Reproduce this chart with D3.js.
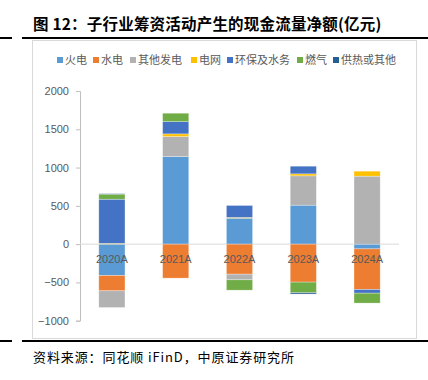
<!DOCTYPE html>
<html><head><meta charset="utf-8">
<script src="https://cdn.jsdelivr.net/npm/d3@7"></script>
<style>
body{margin:0;background:#fff;}
svg{display:block;font-family:"Noto Sans CJK SC","Noto Sans",sans-serif;}
</style></head>
<body>
<script>
const categories = ["2020A","2021A","2022A","2023A","2024A"];
const seriesNames = ["火电","水电","其他发电","电网","环保及水务","燃气","供热或其他"];
const colors = ["#5B9BD5","#ED7D31","#B2B2B2","#FFC000","#4472C4","#70AD47","#255E91"];
const v_huodian   = [-410, 1144, 339, 509, -62];
const v_shuidian  = [-200, -444, -392, -496, -531];
const v_qita      = [-218, 261, -74, 383, 888];
const v_dianwang  = [10, 35, 10, 26, 65];
const v_huanbao   = [577, 160, 156, 100, -47];
const v_ranqi     = [66, 110, -135, -140, -130];
const v_gongre    = [6, 0, 0, -16, 0];
const yTicks = [-1000,-500,0,500,1000,1500,2000];
const title = "图 12：子行业筹资活动产生的现金流量净额(亿元)";
const source = "资料来源：同花顺 iFinD，中原证券研究所";

const seriesVals = [v_huodian,v_shuidian,v_qita,v_dianwang,v_huanbao,v_ranqi,v_gongre];
const table = categories.map((c,i)=>{const o={cat:c}; seriesNames.forEach((s,j)=>o[s]=seriesVals[j][i]); return o;});

const W=428,H=380;
const svg=d3.select("body").append("svg").attr("width",W).attr("height",H);

// title and rules
svg.append("text").attr("x",33).attr("y",30).attr("font-size",15.5).attr("font-weight","bold")
  .attr("fill","#000").attr("letter-spacing",0.2).text(title);
svg.append("rect").attr("x",0).attr("y",37).attr("width",12).attr("height",2).attr("fill","#000");
svg.append("rect").attr("x",22).attr("y",37).attr("width",W-22).attr("height",2).attr("fill","#000");
svg.append("rect").attr("x",32.5).attr("y",40.5).attr("width",384).attr("height",298).attr("fill","none").attr("stroke","#D9D9D9");
svg.append("rect").attr("x",0).attr("y",340).attr("width",12).attr("height",2).attr("fill","#000");
svg.append("rect").attr("x",22).attr("y",340).attr("width",W-22).attr("height",2).attr("fill","#000");
svg.append("text").attr("x",33).attr("y",362).attr("font-size",13).attr("letter-spacing",0.9).attr("fill","#000").text(source);

// scales
const x=d3.scaleBand().domain(categories).range([80,399]).paddingInner(0.59).paddingOuter(0.295);
const y=d3.scaleLinear().domain([-1000,2000]).range([320.7,91]);

// axis
const ax=svg.append("g").attr("transform","translate(80,0)")
  .call(d3.axisLeft(y).tickValues(yTicks).tickFormat(d3.format("d")).tickSize(4).tickPadding(7));
ax.select(".domain").attr("stroke","#BFBFBF");
ax.selectAll(".tick line").attr("stroke","#BFBFBF");
ax.selectAll("text").attr("fill","#595959").attr("font-size",11).attr("font-family","Liberation Sans, Arial, sans-serif");

// zero line
svg.append("line").attr("x1",80).attr("x2",399).attr("y1",y(0)).attr("y2",y(0)).attr("stroke","#D9D9D9").attr("stroke-width",1);

// bars
const stack=d3.stack().keys(seriesNames).offset(d3.stackOffsetDiverging);
const layers=stack(table);
svg.append("g").selectAll("g").data(layers).join("g").attr("fill",(d,i)=>colors[i])
  .selectAll("rect").data(d=>d.filter(p=>p[1]!==p[0])).join("rect")
  .attr("x",d=>x(d.data.cat)).attr("width",x.bandwidth())
  .attr("y",d=>y(Math.max(d[0],d[1]))).attr("height",d=>Math.abs(y(d[0])-y(d[1])))
  .attr("stroke","#fff").attr("stroke-opacity",0.5).attr("stroke-width",0.6);

// category labels
svg.append("g").selectAll("text").data(categories).join("text")
  .attr("x",d=>x(d)+x.bandwidth()/2).attr("y",y(0)+19).attr("text-anchor","middle")
  .attr("font-size",11).attr("fill","#595959").attr("font-family","Liberation Sans, Arial, sans-serif").text(d=>d);

// legend
const legX=[57,93,130,191,227,297,333];
const lg=svg.append("g").selectAll("g").data(seriesNames).join("g").attr("transform",(d,i)=>`translate(${legX[i]},60)`);
lg.append("rect").attr("x",0).attr("y",-3).attr("width",6).attr("height",6).attr("fill",(d,i)=>colors[i]);
lg.append("text").attr("x",8).attr("y",4).attr("font-size",11).attr("fill","#595959").text(d=>d);
</script>
</body></html>
